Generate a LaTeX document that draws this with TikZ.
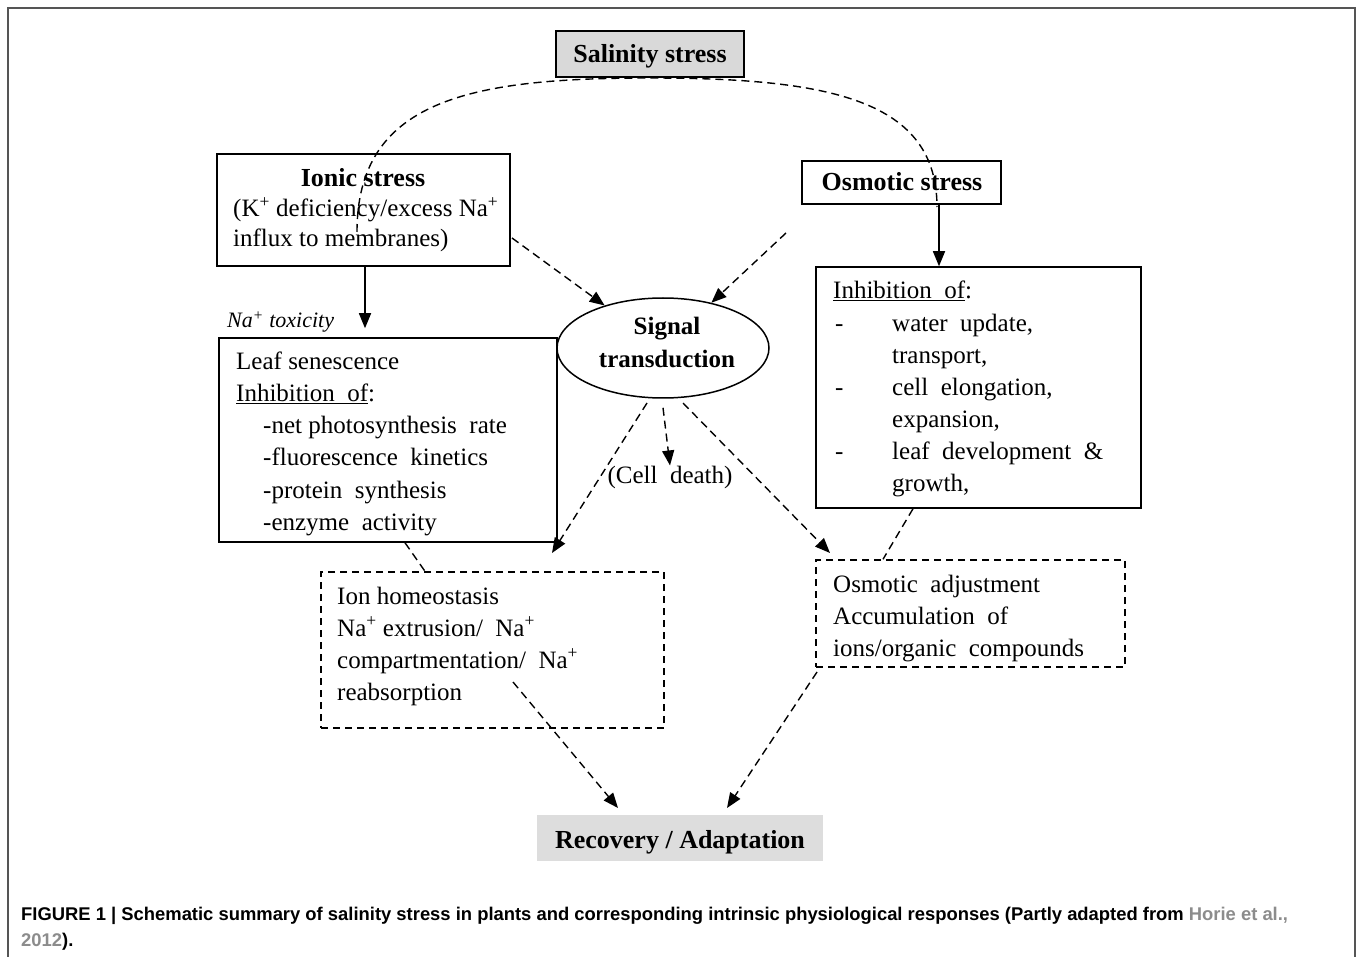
\documentclass[tikz,border=0pt]{standalone}
\usepackage{fontspec}
\setmainfont{Liberation Serif}
\newfontfamily\capfont{Liberation Sans}
\usetikzlibrary{arrows.meta,shapes.geometric}
\definecolor{framegray}{HTML}{555555}
\definecolor{boxgray}{HTML}{D9D9D9}
\definecolor{recgray}{HTML}{DDDDDD}
\definecolor{refgray}{HTML}{8C8C8C}
\tikzset{
  solidbox/.style={draw=black, line width=1.5pt, inner sep=0pt},
  dashbox/.style={draw=black, line width=1.4pt, dash pattern=on 7pt off 5pt, inner sep=0pt},
  dashline/.style={line width=1.4pt, dash pattern=on 8pt off 5pt},
  dasharrow/.style={dashline, -{Triangle[length=15pt,width=12pt]}},
  solidarrow/.style={line width=1.5pt, -{Triangle[length=15pt,width=12pt]}},
  body/.style={font=\fontsize{25}{32}\selectfont, inner sep=0pt, anchor=base west},
  title/.style={font=\fontsize{26}{32}\selectfont\bfseries, inner sep=0pt, anchor=base},
  captext/.style={font=\capfont\bfseries\fontsize{18.4}{26}\selectfont, inner sep=0pt, anchor=base west},
}
\begin{document}
\begin{tikzpicture}[x=1pt,y=-1pt]
\useasboundingbox (0,0) rectangle (1358,957);
% outer frame
\draw[framegray, line width=2pt] (8,960) -- (8,8) -- (1355,8) -- (1355,960);

% boxes
\node[solidbox, fill=boxgray, minimum width=188pt, minimum height=46pt] (sal) at (650,54) {};
\node[title] (saltext) at (650,63) {Salinity stress};

\node[solidbox, minimum width=293pt, minimum height=112pt] (ionic) at (363.5,210) {};
\node[title] (ionict) at (363,187) {Ionic stress};
\node[body] (ionic1) at (233,217) {(K\textsuperscript{+} deficiency/excess Na\textsuperscript{+}};
\node[body] (ionic2) at (233,247) {influx to membranes)};

\node[solidbox, minimum width=199pt, minimum height=43pt] (osm) at (901.5,182.5) {};
\node[title] (osmt) at (902,191) {Osmotic stress};

\node[solidbox, minimum width=338pt, minimum height=204pt] (leftbox) at (388,440) {};
\node[body] (lb1) at (236,370) {Leaf senescence};
\node[body] (lb2) at (236,402) {\underline{Inhibition\ \ of}:};
\node[body] (lb3) at (263,434) {-net photosynthesis\ \ rate};
\node[body] (lb4) at (263,466) {-fluorescence\ \ kinetics};
\node[body] (lb5) at (263,498) {-protein\ \ synthesis};
\node[body] (lb6) at (263,530) {-enzyme\ \ activity};

\node[body, font=\fontsize{22}{26}\selectfont\itshape] (tox) at (227,328) {Na\textsuperscript{+} toxicity};

\node[solidbox, minimum width=325pt, minimum height=241pt] (rightbox) at (978.5,387.5) {};
\node[body] (rb0) at (833,299) {\underline{Inhibition\ \ of}:};
\node[body] (rd1) at (835,332) {-};
\node[body] (rd2) at (835,396) {-};
\node[body] (rd3) at (835,460) {-};
\node[body] (rb1) at (892,332) {water\ \ update,};
\node[body] (rb2) at (892,364) {transport,};
\node[body] (rb3) at (892,396) {cell\ \ elongation,};
\node[body] (rb4) at (892,428) {expansion,};
\node[body] (rb5) at (892,460) {leaf\ \ development\ \ \&};
\node[body] (rb6) at (892,492) {growth,};

\node[draw=black, line width=1.5pt, ellipse, minimum width=212pt, minimum height=100pt, inner sep=0pt] (sig) at (663,348) {};
\node[title, font=\fontsize{25}{32}\selectfont\bfseries] (sig1) at (667,335) {Signal};
\node[title, font=\fontsize{25}{32}\selectfont\bfseries] (sig2) at (667,368) {transduction};

\node[title, font=\fontsize{25}{32}\selectfont] (cell) at (670,483) {(Cell\ \ death)};

\node[dashbox, minimum width=343pt, minimum height=156pt] (ionbox) at (492.5,650) {};
\node[body] (ib1) at (337,604) {Ion homeostasis};
\node[body] (ib2) at (337,636) {Na\textsuperscript{+} extrusion/\ \ Na\textsuperscript{+}};
\node[body] (ib3) at (337,668) {compartmentation/\ \ Na\textsuperscript{+}};
\node[body] (ib4) at (337,700) {reabsorption};

\node[dashbox, minimum width=309pt, minimum height=107pt] (osadj) at (970.5,613.5) {};
\node[body] (ob1) at (833,592) {Osmotic\ \ adjustment};
\node[body] (ob2) at (833,624) {Accumulation\ \ of};
\node[body] (ob3) at (833,656) {ions/organic\ \ compounds};

\node[fill=recgray, minimum width=286pt, minimum height=46pt, inner sep=0pt] (rec) at (680,838) {};
\node[title] (rect) at (680,848) {Recovery / Adaptation};

% dashed arc
\coordinate (arcstart) at (357,232);
\coordinate (arcend) at (937,207);
\draw[dashline] (arcstart) .. controls (357,100) and (470,78) .. (650,78)
  .. controls (830,78) and (937,100) .. (arcend);

% connectors
\draw[solidarrow] (ionic.south -| 365,0) -- ([yshift=9pt]leftbox.north -| 365,0);
\draw[solidarrow] (osm.south -| 939,0) -- (rightbox.north -| 939,0);

\coordinate (ionicout) at (512,238);
\draw[dasharrow] (ionicout) -- (sig);
\coordinate (osmfree) at (786,233);
\draw[dasharrow] (osmfree) -- (sig);

\draw[dasharrow] ([yshift=-9pt]sig.south) -- (cell.north);

\coordinate (sigL) at (647,403);
\coordinate (tipL) at (552,553);
\draw[dasharrow] (sigL) -- (tipL);
\coordinate (sigR) at (683,403);
\coordinate (tipR) at (830,553);
\draw[dasharrow] (sigR) -- (tipR);

\draw[dashline] (leftbox.south -| 405,0) -- (ionbox.north -| 425,0);
\draw[dashline] (rightbox.south -| 913,0) -- (osadj.north -| 883,0);

\coordinate (ionout) at (513,682);
\coordinate (recL) at (618,808);
\draw[dasharrow] (ionout) -- (recL);
\coordinate (osout) at (817,672);
\coordinate (recR) at (727,808);
\draw[dasharrow] (osout) -- (recR);

% caption
\node[captext] (cap1) at (21,920) {FIGURE 1 | Schematic summary of salinity stress in plants and corresponding intrinsic physiological responses (Partly adapted from \textcolor{refgray}{Horie et al.,}};
\node[captext] (cap2) at (21,946) {\textcolor{refgray}{2012}).};
\end{tikzpicture}
\end{document}
